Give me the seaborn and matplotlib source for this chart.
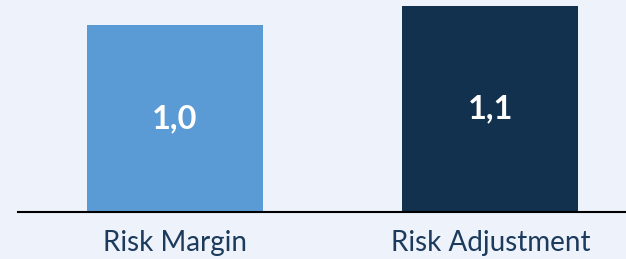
import matplotlib
matplotlib.use("Agg")
import matplotlib.pyplot as plt
import seaborn as sns
import pandas as pd

categories = ["Risk Margin", "Risk Adjustment"]
values = [1.0, 1.1]
value_labels = ["1,0", "1,1"]
colors = ["#5B9BD5", "#12314F"]

sns.set_style("white")
plt.rcParams["font.family"] = ["Lato", "DejaVu Sans"]

bg = "#EEF2FA"
fig = plt.figure(figsize=(6.26, 2.59), dpi=100, facecolor=bg)
ax = fig.add_axes([18 / 626, 47 / 259, 1 - 18 / 626, 212 / 259])
ax.set_facecolor(bg)

df = pd.DataFrame({"cat": categories, "val": values})
sns.barplot(data=df, x="cat", y="val", hue="cat", palette=colors, width=0.558,
            legend=False, ax=ax, saturation=1, linewidth=0)

for i, (v, lab) in enumerate(zip(values, value_labels)):
    ax.text(i, v / 2, lab, ha="center", va="center", color="white",
            fontsize=23.5, fontweight="bold")

ax.set_xlim(-0.498, 1.43)
ax.set_ylim(0, 1.134)
ax.set_yticks([])
ax.set_xlabel("")
ax.set_ylabel("")
for s in ["top", "right", "left"]:
    ax.spines[s].set_visible(False)
ax.spines["bottom"].set_color("black")
ax.spines["bottom"].set_linewidth(1.5)
ax.tick_params(axis="x", length=0, pad=13, labelsize=20, labelcolor="#1B3A5C")

fig.savefig("out.png", dpi=100, facecolor=bg)
